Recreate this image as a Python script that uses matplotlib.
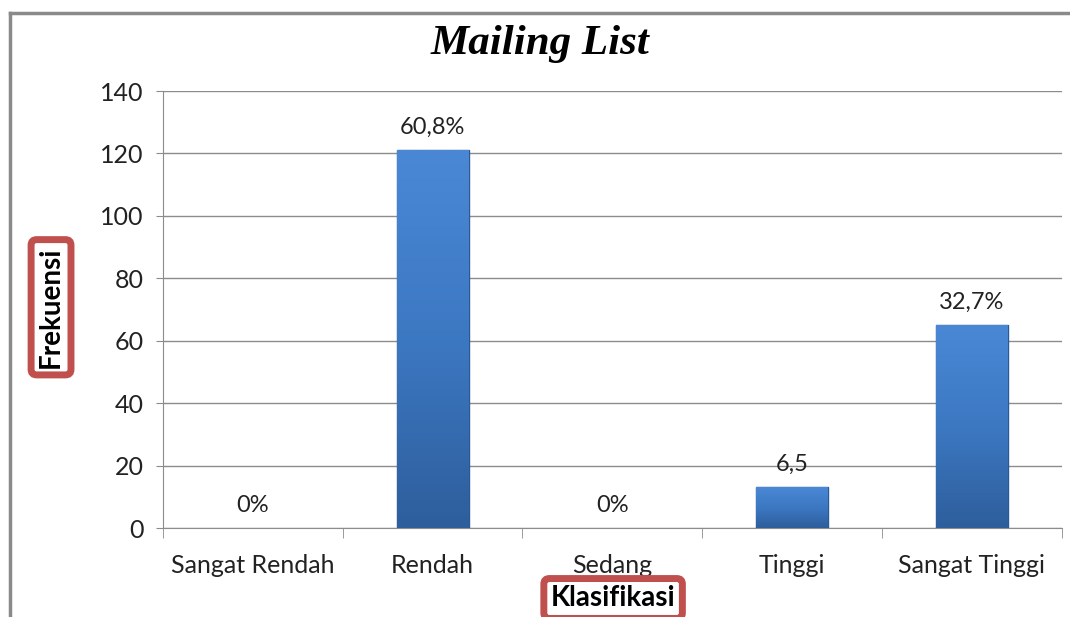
import numpy as np
import matplotlib.pyplot as plt
from matplotlib.lines import Line2D

# Data
categories = ["Sangat Rendah", "Rendah", "Sedang", "Tinggi", "Sangat Tinggi"]
frekuensi = [0, 121, 0, 13, 65]
bar_labels = ["0%", "60,8%", "0%", "6,5", "32,7%"]

plt.rcParams['font.family'] = ['Lato', 'DejaVu Sans']

fig = plt.figure(figsize=(10.70, 6.17), dpi=100)
ax = fig.add_axes([0.1523, 0.1442, 0.84, 0.7083])

x = np.arange(len(categories))
bars = ax.bar(x, frekuensi, width=0.4, color="#3A74BE", edgecolor="#2A5A94",
              linewidth=[1.0 if v > 0 else 0 for v in frekuensi], zorder=3)

# vertical gradient on each bar
grad = np.linspace(0, 1, 256).reshape(-1, 1)
cmap = plt.matplotlib.colors.LinearSegmentedColormap.from_list(
    "barblue", ["#2E5E9C", "#3C78C2", "#4A88D6"])
for b in bars:
    if b.get_height() <= 0:
        continue
    x0, w, h = b.get_x(), b.get_width(), b.get_height()
    im = ax.imshow(grad, extent=[x0, x0 + w, 0, h], origin="lower",
                   cmap=cmap, aspect="auto", zorder=3.5)
    im.set_clip_path(b)

for xi, v, lab in zip(x, frekuensi, bar_labels):
    ax.annotate(lab, (xi, v), xytext=(0, 9), textcoords="offset points",
                ha="center", va="bottom", fontsize=17, color="#222222")

ax.set_xlim(-0.5, len(categories) - 0.5)
ax.set_ylim(0, 140)
ax.set_yticks(np.arange(0, 141, 20))
ax.yaxis.grid(True, color="#8C8C8C", linewidth=1.0, zorder=0)
ax.set_axisbelow(True)

ax.set_xticks(x)
ax.set_xticklabels(categories, fontsize=18, color="#222222")
ax.tick_params(axis="x", length=0, pad=19)
ax.set_xticks(np.arange(-0.5, len(categories), 1), minor=True)
ax.tick_params(axis="x", which="minor", length=7, color="#8C8C8C")
ax.tick_params(axis="y", labelsize=18, length=5, color="#8C8C8C",
               labelcolor="#222222", pad=9)

for s in ["top", "right"]:
    ax.spines[s].set_visible(False)
for s in ["left", "bottom"]:
    ax.spines[s].set_color("#8C8C8C")

fig.text(0.505, 0.929, "Mailing List", family="Liberation Serif", fontsize=31,
         fontweight="bold", style="italic", ha="center", va="center")

box = dict(boxstyle="round,pad=0.25,rounding_size=0.2", facecolor="white",
           edgecolor="#C0504D", linewidth=5)
fig.text(0.0477, 0.502, "Frekuensi", rotation=90, ha="center", va="center",
         fontsize=20, fontweight="bold", bbox=box)
fig.text(0.573, 0.03, "Klasifikasi", ha="center", va="center",
         fontsize=20, fontweight="bold", bbox=box)

# outer chart frame (left and top edges visible)
fig.add_artist(Line2D([0.0095, 0.0095], [0, 0.979], transform=fig.transFigure,
                      color="#8A8A8A", linewidth=2.5))
fig.add_artist(Line2D([0.0095, 1.0], [0.979, 0.979], transform=fig.transFigure,
                      color="#8A8A8A", linewidth=2.5))

fig.savefig("out.png", dpi=100)
